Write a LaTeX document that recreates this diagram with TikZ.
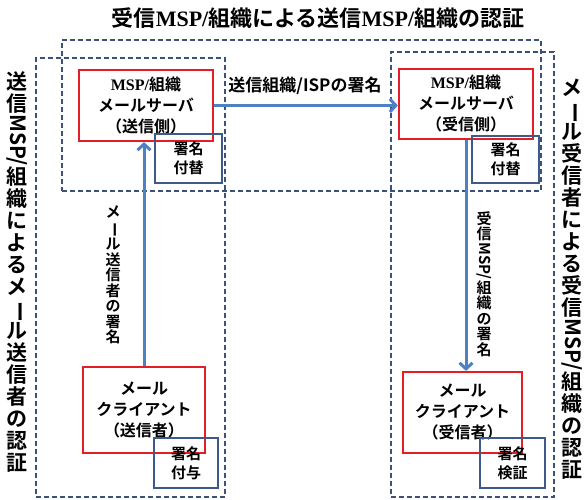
\documentclass[tikz,border=0pt]{standalone}
\usepackage{fontspec}
\usepackage{graphicx}
\setmainfont{Noto Sans CJK JP}[BoldFont={Noto Sans CJK JP Bold}]
\newfontfamily\msp{Liberation Serif}
\usetikzlibrary{arrows.meta}
\definecolor{boxred}{RGB}{228,30,38}
\definecolor{sigblue}{RGB}{62,90,138}
\definecolor{dashblue}{RGB}{58,82,122}
\definecolor{arrowblue}{RGB}{78,128,196}
\newcommand\vbar{\rotatebox[origin=c]{-90}{ー}}
\newcommand\vmsp{\rotatebox[origin=c]{-90}{MSP/}}
\tikzset{
  redbox/.style={draw=boxred, line width=2.2pt, align=center, inner sep=0pt,
    font=\fontsize{16}{21}\selectfont\bfseries},
  sigbox/.style={draw=sigblue, line width=1.8pt, align=center, inner sep=0pt,
    font=\fontsize{15}{19}\selectfont\bfseries},
  dashbox/.style={draw=dashblue, line width=1.8pt, dash pattern=on 5pt off 3pt, inner sep=0pt},
  arr/.style={draw=arrowblue, line width=3pt, -{Straight Barb[length=6pt,width=13pt]}},
  sidelabel/.style={align=center, inner sep=0pt, font=\fontsize{21}{22}\selectfont\bfseries},
  arrlabel/.style={align=center, inner sep=0pt, font=\fontsize{15}{15.5}\selectfont\bfseries},
}
\begin{document}
\begin{tikzpicture}[x=1pt,y=-1pt]
\useasboundingbox (0,0) rectangle (587,500);
% dashed groups
\node[dashbox, minimum width=479pt, minimum height=151pt] (topgrp) at (301.5,115.5) {};
\node[dashbox, minimum width=189pt, minimum height=439pt] (leftgrp) at (130.5,277.5) {};
\node[dashbox, minimum width=163pt, minimum height=445pt] (rightgrp) at (472.5,274.5) {};
% title
\node[font=\fontsize{22}{24}\selectfont\bfseries, inner sep=0pt] (title) at (318,18)
  {受信{\msp MSP/}組織による送信{\msp MSP/}組織の認証};
% servers and clients
\node[redbox, minimum width=134pt, minimum height=71pt] (tls) at (146,105.5)
  {{\msp MSP/}組織\\メールサーバ\\（送信側）};
\node[redbox, minimum width=134pt, minimum height=70pt] (trs) at (466,104)
  {{\msp MSP/}組織\\メールサーバ\\（受信側）};
\node[redbox, minimum width=122pt, minimum height=86pt] (blc) at (144,410)
  {メール\\クライアント\\（送信者）};
\node[redbox, minimum width=119pt, minimum height=81pt] (brc) at (462.5,412.5)
  {メール\\クライアント\\（受信者）};
% signature boxes
\node[sigbox, minimum width=67pt, minimum height=49pt] (tlsig) at (188.5,158.5) {署名\\付替};
\node[sigbox, minimum width=67pt, minimum height=47pt] (trsig) at (505.5,159.5) {署名\\付替};
\node[sigbox, minimum width=64pt, minimum height=50pt] (blsig) at (186,463) {署名\\付与};
\node[sigbox, minimum width=65pt, minimum height=50pt] (brsig) at (512.5,463) {署名\\検証};
% arrows
\draw[arr] (tls.east) -- (tls.east -| trs.west);
\draw[arr] (blc.north) -- (blc.north |- tls.south);
\draw[arr] (trs.south) -- (trs.south |- brc.north);
% arrow labels
\node[font=\fontsize{17}{18}\selectfont\bfseries, inner sep=0pt] (isplab) at (305,86) {送信組織/ISPの署名};
\node[arrlabel] (sendlab) at (113,275) {メ\\\vbar\\ル\\送\\信\\者\\の\\署\\名};
\node[arrlabel] (recvlab) at (484,284) {受\\信\\\vmsp\\組\\織\\の\\署\\名};
% side labels
\node[sidelabel] (leftlab) at (17,272) {送\\信\\\vmsp\\組\\織\\に\\よ\\る\\メ\\\vbar\\ル\\送\\信\\者\\の\\認\\証};
\node[sidelabel] (rightlab) at (572,279) {メ\\\vbar\\ル\\受\\信\\者\\に\\よ\\る\\受\\信\\\vmsp\\組\\織\\の\\認\\証};
\end{tikzpicture}
\end{document}
